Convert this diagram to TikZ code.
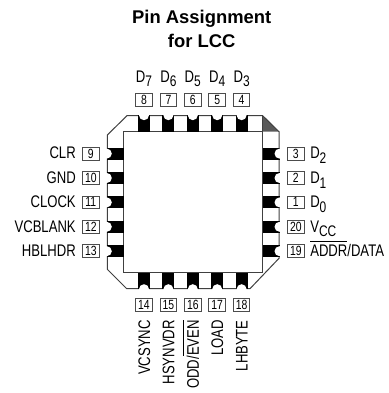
\documentclass[tikz,border=0pt]{standalone}
\usepackage{fontspec}
\setmainfont{Liberation Sans}
\newfontfamily\pinfont[FakeStretch=0.78]{Liberation Sans}
\newcommand{\lab}[2]{#1\raisebox{-3.6pt}{\fontsize{11.5}{12}\selectfont #2}}
\newcommand{\barlab}[1]{\setbox0\hbox{#1}\rlap{\rule[11.2pt]{\wd0}{.6pt}}\box0}
\tikzset{
	pinbox/.style={draw=black!70,line width=.7pt,minimum width=12.4pt,minimum height=9.6pt,inner sep=0pt,font=\pinfont\fontsize{10}{11}\selectfont},
	pinlabel/.style={inner sep=0pt,font=\pinfont\fontsize{12.6}{14}\selectfont},
	title/.style={inner sep=0pt,font=\bfseries\fontsize{13.8}{17.8}\selectfont,align=center},
	outline/.style={draw=black!75,line width=.75pt}
}
\begin{document}
\begin{tikzpicture}[x=.75pt,y=-.75pt]
	\useasboundingbox (0,0) rectangle (389,393);
	\node [title] (head) at (201.7,29) {Pin Assignment\\for LCC};
	% Package
	\fill [black!65] (262.7,115.7)--(279,131.7)--(262.7,131.7)--cycle;
	\draw [outline] (127,115.7)--(262.7,115.7)--(279,131.7)--(279,258.3)--(250,288.7)--(126.7,288.7)--(107.3,269.3)--(107.3,135)--cycle;
	\draw [outline] (123.7,131.7) rectangle (262.7,272.7);
	\draw [outline] (262.7,115.7)--(262.7,131.7);
	% Pins
	\foreach \p in {144,168.4,192.8,217.2,241.6}
	{
		\fill (\p-6,115.2) rectangle (\p+6,131.7);
		\fill [white] (\p,115.2) circle (5);
		\fill (\p-6,272.7) rectangle (\p+6,289.2);
		\fill [white] (\p,289.2) circle (5);
	}
	\foreach \p in {153.6,178,202.4,226.8,251.2}
	{
		\fill (106.8,\p-6) rectangle (123.7,\p+6);
		\fill [white] (106.8,\p) circle (5);
		\fill (262.7,\p-6) rectangle (279.5,\p+6);
		\fill [white] (279.5,\p) circle (5);
	}
	% Top pins
	\foreach \p/\n/\d in {144/8/7,168.4/7/6,192.8/6/5,217.2/5/4,241.6/4/3}
	{
		\node [pinbox] (box\n) at (\p,100) {\n};
		\node [pinlabel,anchor=base] (name\n) at (\p,82) {\lab{D}{\d}};
	}
	% Left pins
	\foreach \p/\n/\l in {153.6/9/CLR,178/10/GND,202.4/11/CLOCK,226.8/12/VCBLANK,251.2/13/HBLHDR}
	{
		\node [pinbox] (box\n) at (90.8,\p) {\n};
		\node [pinlabel,anchor=base east] (name\n) at (76,\p+5.3) {\l};
	}
	% Right pins
	\foreach \p/\n/\l in {153.6/3/{\lab{D}{2}},178/2/{\lab{D}{1}},202.4/1/{\lab{D}{0}},226.8/20/{\lab{V}{CC}},251.2/19/{\barlab{ADDR}/DATA}}
	{
		\node [pinbox] (box\n) at (295.8,\p) {\n};
		\node [pinlabel,anchor=base west] (name\n) at (310,\p+5.3) {\l};
	}
	% Bottom pins
	\foreach \p/\n/\l in {144/14/VCSYNC,168.4/15/HSYNVDR,192.8/16/{ODD/\barlab{EVEN}},217.2/17/LOAD,241.6/18/LHBYTE}
	{
		\node [pinbox] (box\n) at (\p,305) {\n};
		\node [pinlabel,rotate=90,anchor=base east] (name\n) at (\p+6,320) {\l};
	}
\end{tikzpicture}
\end{document}
